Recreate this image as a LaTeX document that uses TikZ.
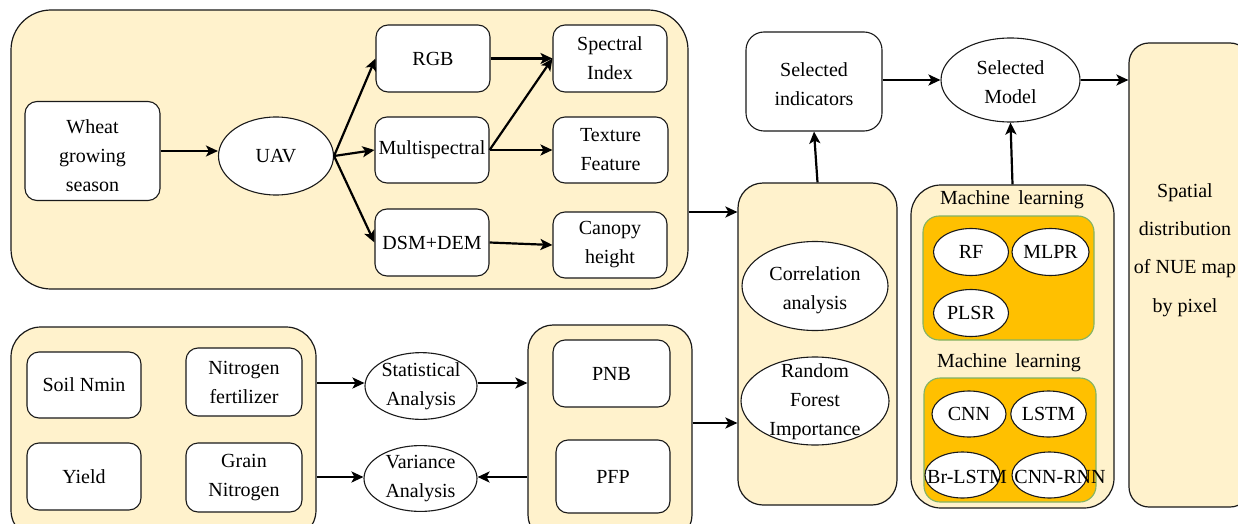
\documentclass[tikz,border=0pt]{standalone}
\usepackage{fontspec}
\setmainfont{Liberation Serif}
\usetikzlibrary{arrows.meta,shapes.geometric}
\definecolor{cream}{HTML}{FFF2CC}
\definecolor{orangefill}{HTML}{FFC000}
\definecolor{greenedge}{HTML}{82B366}
\definecolor{edge}{HTML}{1A1A1A}
\tikzset{
  container/.style={draw=edge,line width=1.2pt,fill=cream,rounded corners=#1,minimum width=0pt},
  container/.default=30pt,
  box/.style={draw=edge,line width=1.1pt,fill=white,rounded corners=12pt,align=center,inner sep=1pt,font=\fontsize{20}{29}\selectfont},
  oval/.style={ellipse,draw=edge,line width=1.1pt,fill=white,align=center,inner sep=0pt,font=\fontsize{20}{29}\selectfont},
  orangebox/.style={draw=greenedge,line width=1.1pt,fill=orangefill,rounded corners=16pt},
  lbl/.style={align=center,font=\fontsize{20}{29}\selectfont,inner sep=0pt},
  arr/.style={line width=2.2pt,draw=black,-{Stealth[length=12pt,width=11pt,inset=3pt]}}
}
\begin{document}
\begin{tikzpicture}[x=1pt,y=-1pt]
\useasboundingbox (0,0) rectangle (1238,524);
\clip (0,0) rectangle (1238,524);
\fill[white] (0,0) rectangle (1238,524);
% containers
\node[container=40pt,minimum width=677pt,minimum height=279pt] (topc) at (349.5,149.5) {};
\node[container=30pt,minimum width=305pt,minimum height=213pt] (blc) at (163.5,433.5) {};
\node[container=25pt,minimum width=164pt,minimum height=215pt] (pnbc) at (610,432.5) {};
\node[container=25pt,minimum width=159pt,minimum height=322pt] (cc) at (817.5,344) {};
\node[container=30pt,minimum width=203pt,minimum height=323pt] (mlc) at (1012.5,346.5) {};
\node[container=20pt,minimum width=121pt,minimum height=464pt] (spc) at (1189.5,275) {};
% top group
\node[box,minimum width=135pt,minimum height=99pt] (wheat) at (92.5,151) {};
\node[lbl] (wheatt) at (92.5,156) {Wheat\\growing\\season};
\node[oval,minimum width=115pt,minimum height=78pt] (uav) at (276,156) {UAV};
\node[box,minimum width=114pt,minimum height=67pt] (rgb) at (433,58.5) {RGB};
\node[box,minimum width=114pt,minimum height=66pt] (multi) at (432,150) {Multispectral};
\node[box,minimum width=114pt,minimum height=67pt] (dsm) at (432,242.5) {DSM+DEM};
\node[box,minimum width=114pt,minimum height=67pt] (spec) at (610,58.5) {Spectral\\Index};
\node[box,minimum width=115pt,minimum height=66pt] (tex) at (610.5,150) {Texture\\Feature};
\node[box,minimum width=114pt,minimum height=66pt] (can) at (610,245) {Canopy\\height};
% bottom group
\node[box,minimum width=114pt,minimum height=66pt] (soil) at (84,385) {Soil Nmin};
\node[box,minimum width=116pt,minimum height=68pt] (nfert) at (244,382) {Nitrogen\\fertilizer};
\node[box,minimum width=114pt,minimum height=67pt] (yield) at (84,476.5) {Yield};
\node[box,minimum width=116pt,minimum height=69pt] (grain) at (244,477.5) {Grain\\Nitrogen};
\node[oval,minimum width=112pt,minimum height=62pt] (stat) at (421,386) {Statistical\\Analysis};
\node[oval,minimum width=113pt,minimum height=63pt] (var) at (420.5,478.5) {Variance\\Analysis};
\node[box,minimum width=117pt,minimum height=67pt] (pnb) at (611.5,373.5) {PNB};
\node[box,minimum width=114pt,minimum height=73pt] (pfp) at (613,476.5) {PFP};
% analysis
\node[oval,minimum width=146pt,minimum height=89pt] (corr) at (815,286) {};
\node[lbl] (corrt) at (815,290) {Correlation\\analysis};
\node[oval,minimum width=148pt,minimum height=88pt] (rfi) at (815,401) {};
\node[lbl] (rfit) at (815,402) {Random\\Forest\\Importance};
\node[box,rounded corners=18pt,minimum width=136pt,minimum height=99pt] (selind) at (814,81.5) {};
\node[lbl] (selindt) at (814,84) {Selected\\indicators};
\node[oval,minimum width=139pt,minimum height=84pt] (selmod) at (1010.5,80) {};
\node[lbl] (selmodt) at (1010.5,82) {Selected\\Model};
% machine learning
\node[lbl] (ml1) at (1012,200) {Machine\, learning};
\node[orangebox,minimum width=171pt,minimum height=124pt] (or1) at (1008.5,278) {};
\node[oval,minimum width=75pt,minimum height=47pt] (rf) at (971,252) {RF};
\node[oval,minimum width=75pt,minimum height=47pt] (mlpr) at (1050.5,252) {MLPR};
\node[oval,minimum width=75pt,minimum height=47pt] (plsr) at (971,313) {PLSR};
\node[lbl] (ml2) at (1009,363) {Machine\, learning};
\node[orangebox,minimum width=172pt,minimum height=124pt] (or2) at (1010,440) {};
\node[oval,minimum width=74pt,minimum height=46pt] (cnn) at (969,414) {CNN};
\node[oval,minimum width=75pt,minimum height=46pt] (lstm) at (1048.5,414) {LSTM};
\node[oval,minimum width=75pt,minimum height=46pt] (brl) at (962.5,475) {};
\node[lbl] (brlt) at (967,477) {Br-LSTM};
\node[oval,minimum width=75pt,minimum height=46pt] (cr) at (1049.5,475) {};
\node[lbl] (crt) at (1060,477) {CNN-RNN};
% spatial text
\node[align=center,inner sep=0pt,font=\fontsize{20}{38.3}\selectfont] (spt) at (1185,250) {Spatial\\distribution\\of NUE map\\by pixel};
% arrows
\draw[arr] (wheat.east) -- (uav.west |- wheat.east);
\draw[arr] (uav.east) -- (rgb.west);
\draw[arr] (uav.east) -- (multi.west);
\draw[arr] (uav.east) -- (dsm.west);
\draw[arr] (rgb.east) -- (spec.west);
\draw[arr] (multi.east) -- (spec.west);
\draw[arr] (multi.east) -- (tex.west);
\draw[arr] (dsm.east) -- (can.west);
\draw[arr] (topc.east |- 0,212) -- (cc.west |- 0,212);
\draw[arr] (blc.east |- 0,383) -- (stat.west |- 0,383);
\draw[arr] (stat.east |- 0,383) -- (pnbc.west |- 0,383);
\draw[arr] (blc.east |- 0,477) -- (var.west |- 0,477);
\draw[arr] (pnbc.west |- 0,477) -- (var.east |- 0,477);
\draw[arr] (pnbc.east |- 0,423) -- (cc.west |- 0,423);
\draw[arr] (cc.north) -- (selind.south);
\draw[arr] (selind.east |- 0,80) -- (selmod.west);
\draw[arr] (selmod.east) -- (spc.west |- selmod.east);
\draw[arr] (mlc.north) -- (selmod.south);
\end{tikzpicture}
\end{document}
